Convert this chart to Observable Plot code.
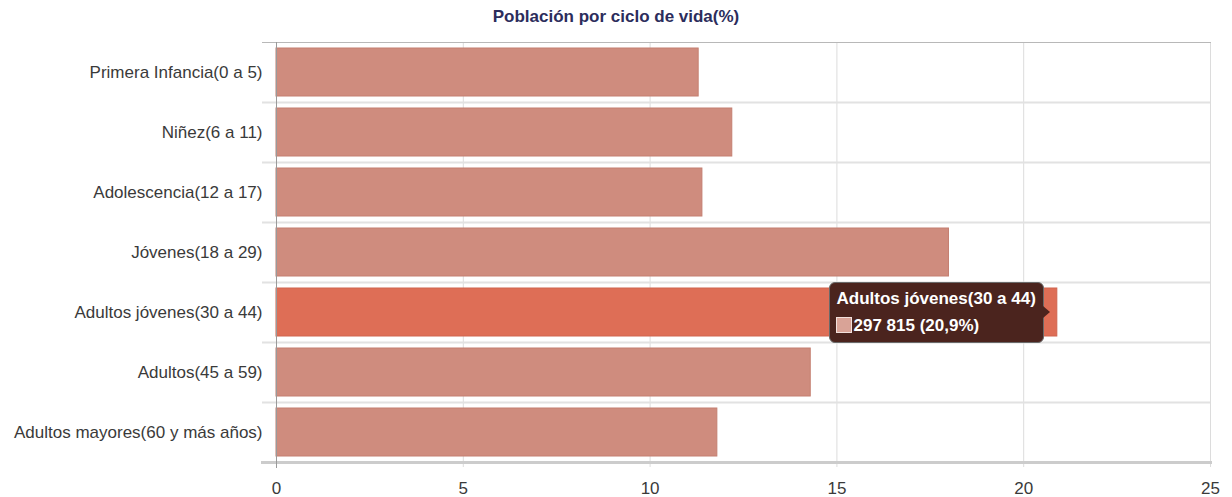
<!DOCTYPE html>
<html>
<head>
<meta charset="utf-8">
<script src="https://cdn.jsdelivr.net/npm/d3@7"></script>
<script src="https://cdn.jsdelivr.net/npm/@observablehq/plot@0.6"></script>
<style>
  html, body { margin: 0; padding: 0; background: #fff; }
  #wrap { position: relative; width: 1232px; height: 497px; font-family: "Liberation Sans", Arial, sans-serif; }
  #title { height: 30px; line-height: 34px; text-align: center; font-size: 17px; font-weight: bold; color: #2c2d5c; }
  #tip { position: absolute; box-sizing: border-box; background: #4b241e; border: 1px solid #6a6a6a; border-radius: 6px;
         color: #fff; font-weight: bold; font-size: 17px; padding: 2px 7px 3px 6px; line-height: 27px; white-space: nowrap; }
  #tip .sw { display: inline-block; width: 14px; height: 14px; background: #d9a397; border: 1px solid #f2e0dc; vertical-align: -2px; margin-right: 1px; }
  #tip .arrow { position: absolute; right: -7px; top: 50%; margin-top: -6px; width: 0; height: 0;
                border-top: 6px solid transparent; border-bottom: 6px solid transparent; border-left: 7px solid #4b241e; }
</style>
</head>
<body>
<div id="wrap">
  <div id="title"></div>
  <div id="chart"></div>
</div>
<script>
const titleText = "Población por ciclo de vida(%)";
const categories = [
  "Primera Infancia(0 a 5)",
  "Niñez(6 a 11)",
  "Adolescencia(12 a 17)",
  "Jóvenes(18 a 29)",
  "Adultos jóvenes(30 a 44)",
  "Adultos(45 a 59)",
  "Adultos mayores(60 y más años)"
];
const values = [11.3, 12.2, 11.4, 18.0, 20.9, 14.3, 11.8];
const xTicks = [0, 5, 10, 15, 20, 25];
const highlighted = "Adultos jóvenes(30 a 44)";
const highlightedCount = "297 815";
const highlightedPct = "20,9%";

const data = categories.map((c, i) => ({category: c, value: values[i]}));

document.getElementById("title").textContent = titleText;

const chart = Plot.plot({
  width: 1232,
  height: 467,
  marginTop: 12,
  marginBottom: 35,
  marginLeft: 276,
  marginRight: 22,
  style: {fontFamily: "'Liberation Sans', Arial, sans-serif", fontSize: "17px", color: "#3a3a3a", background: "#fff", overflow: "visible"},
  x: {domain: [0, 25], ticks: xTicks, tickSize: 0, tickPadding: 19, label: null},
  y: {domain: categories, padding: 0, tickSize: 0, tickPadding: 14, label: null},
  color: {type: "identity"},
  marks: [
    Plot.ruleX(xTicks.slice(1), {stroke: "#dcdcdc", strokeWidth: 1, strokeOpacity: 1, insetBottom: -5}),
    Plot.ruleY(categories.slice(0, -1), {y: d => d, dy: 30, stroke: "#e2e2e2", strokeWidth: 2, strokeOpacity: 1, insetLeft: -14}),
    Plot.frame({anchor: "top", stroke: "#b8b8b8", strokeWidth: 1, insetLeft: -14}),
    Plot.barX(data, {
      x: "value", y: "category",
      fill: d => d.category === highlighted ? "#de6e56" : "#cf8c7e",
      stroke: d => d.category === highlighted ? "#d0654f" : "#c47f71",
      strokeWidth: 1,
      insetTop: 6, insetBottom: 6
    }),
    Plot.frame({anchor: "bottom", stroke: "#cccccc", strokeWidth: 3, insetLeft: -14}),
    Plot.ruleX([0], {stroke: "#9a9a9a", strokeWidth: 1, insetBottom: -6})
  ]
});
document.getElementById("chart").appendChild(chart);

// Tooltip positioned from the library's scales
const xs = chart.scale("x"), ys = chart.scale("y");
const hv = values[categories.indexOf(highlighted)];
const xEnd = xs.apply(hv);
const yMid = ys.apply(highlighted) + ys.bandwidth / 2 + 30; // +30 for title offset
const tip = document.createElement("div");
tip.id = "tip";
tip.innerHTML = `<div>${highlighted}</div><div><span class="sw"></span>${highlightedCount} (${highlightedPct})</div><div class="arrow"></div>`;
document.getElementById("wrap").appendChild(tip);
const r = tip.getBoundingClientRect();
tip.style.left = (xEnd - 13 - r.width) + "px";
tip.style.top = (yMid - r.height / 2) + "px";
</script>
</body>
</html>
